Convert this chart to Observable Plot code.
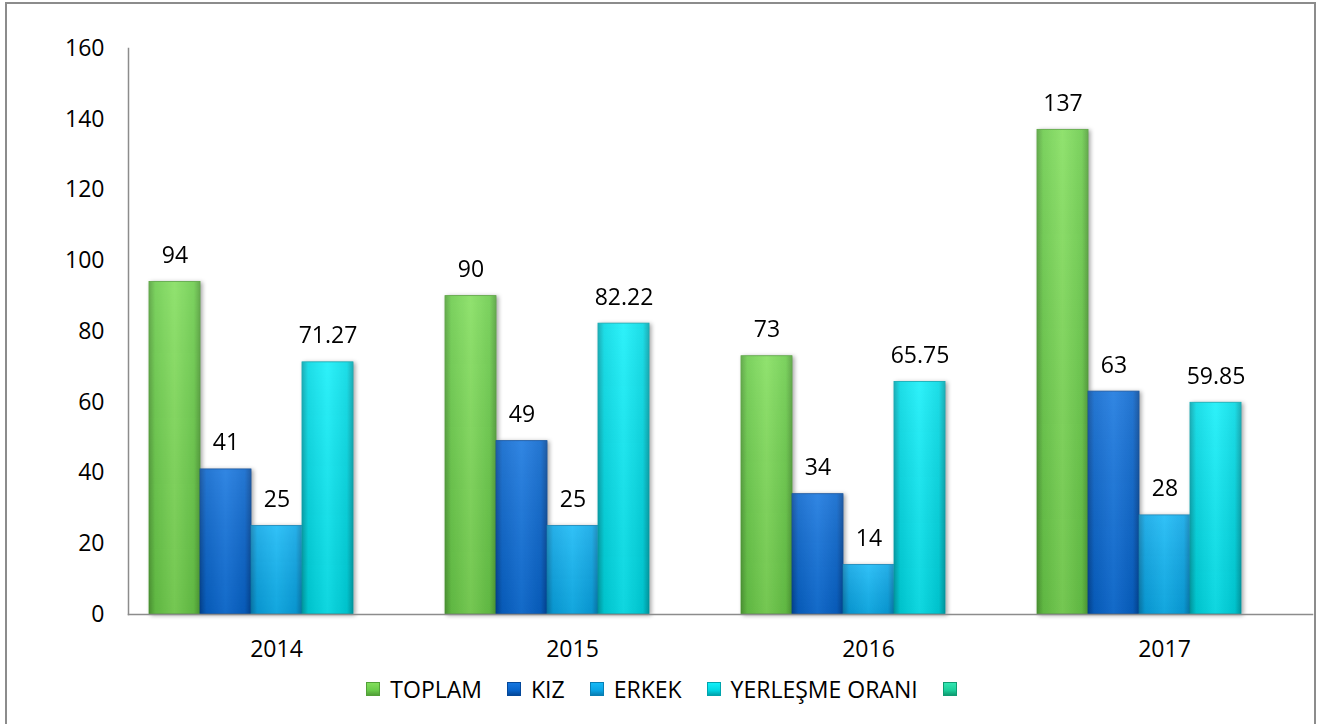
<!DOCTYPE html>
<html><head><meta charset="utf-8">
<script src="https://cdn.jsdelivr.net/npm/d3@7"></script>
<script src="https://cdn.jsdelivr.net/npm/@observablehq/plot@0.6"></script>
<style>
body{margin:0;background:#fff;font-family:"Open Sans",sans-serif;}
#wrap{position:relative;width:1336px;height:724px;overflow:hidden;background:#fff;}
#border{position:absolute;left:5px;top:2px;width:1311px;height:800px;border:2px solid #8c8c8c;box-sizing:border-box;}
#chart{position:absolute;left:0;top:0;}
#legend{position:absolute;left:7px;top:674px;width:1309px;display:flex;justify-content:center;align-items:center;gap:25px;font-size:23px;line-height:30px;color:#000;}
.item{display:flex;align-items:center;}
.sw{width:14px;height:14px;margin-right:10px;box-sizing:border-box;}
</style></head>
<body>
<div id="wrap"><div id="border"></div><div id="chart"></div><div id="legend"></div></div>
<script>
const years = ["2014", "2015", "2016", "2017"];
// fifth series is present in the legend but has no label and no values
const series = ["TOPLAM", "KIZ", "ERKEK", "YERLEŞME ORANI", ""];
const toplam = [94, 90, 73, 137];
const kiz = [41, 49, 34, 63];
const erkek = [25, 25, 14, 28];
const yerlesme = [71.27, 82.22, 65.75, 59.85];
const yTicks = [0, 20, 40, 60, 80, 100, 120, 140, 160];

// colour styles: [dark edge, base, light centre]
const palette = [
  ["#52a038", "#6acb4a", "#82de5c"],
  ["#04489a", "#0864cb", "#1676df"],
  ["#087fb4", "#0aa5e5", "#16b9f6"],
  ["#00a4ad", "#00d8e3", "#12eff9"],
  ["#0f9c72", "#1ccf9a", "#33e6b2"]
];

const values = [toplam, kiz, erkek, yerlesme];
const data = years.flatMap((y, i) => values.map((v, j) => ({year: y, series: series[j], idx: j, value: v[i]})));

const chart = Plot.plot({
  width: 1336,
  height: 670,
  marginLeft: 127,
  marginRight: 24,
  marginTop: 48,
  marginBottom: 56,
  style: {fontFamily: "'Open Sans', sans-serif", fontSize: "23px", color: "#000", background: "transparent", overflow: "visible"},
  fx: {domain: years, paddingInner: 0, paddingOuter: 0, label: null, tickSize: 0, tickPadding: 26, axis: "bottom"},
  x: {domain: series, paddingInner: 0, paddingOuter: 0.374, axis: null},
  y: {domain: [0, 160], ticks: yTicks, tickSize: 0, tickPadding: 24, label: null, tickFormat: d => String(d)},
  color: {type: "identity"},
  marks: [
    Plot.barY(data, {fx: "year", x: "series", y: "value", fill: d => `url(#grad${d.idx})`, stroke: d => palette[d.idx][0], strokeWidth: 0.8}),
    Plot.barY(data, {fx: "year", x: "series", y: "value", fill: d => "url(#vshade)"}),
    Plot.text(data, {fx: "year", x: "series", y: "value", text: d => String(d.value), dy: -19, lineAnchor: "bottom", fill: "#000"}),
    Plot.frame({anchor: "bottom", facet: "super", stroke: "#8c8c8c", strokeWidth: 1.5}),
    Plot.frame({anchor: "left", facet: "super", stroke: "#8c8c8c", strokeWidth: 1.5})
  ]
});
const svg = chart.tagName.toLowerCase() === "svg" ? chart : chart.querySelector("svg");
let defs = "<defs>";
palette.forEach((p, i) => {
  defs += `<linearGradient id="grad${i}" x1="0" x2="1" y1="0" y2="0">
    <stop offset="0" stop-color="${p[0]}"/><stop offset="0.12" stop-color="${p[1]}"/>
    <stop offset="0.5" stop-color="${p[2]}"/><stop offset="0.88" stop-color="${p[1]}"/>
    <stop offset="1" stop-color="${p[0]}"/></linearGradient>`;
});
defs += `<linearGradient id="vshade" x1="0" x2="0" y1="0" y2="1">
  <stop offset="0" stop-color="#fff" stop-opacity="0.12"/><stop offset="1" stop-color="#000" stop-opacity="0.1"/></linearGradient></defs>`;
svg.insertAdjacentHTML("afterbegin", defs);
const barGroups = svg.querySelectorAll('g[aria-label="bar"]');
if (barGroups[0]) barGroups[0].style.filter = "drop-shadow(2px 1px 2px rgba(0,0,0,0.35))";
document.getElementById("chart").appendChild(chart);

const legend = document.getElementById("legend");
series.forEach((lab, i) => {
  const p = palette[i];
  const item = document.createElement("div");
  item.className = "item";
  const sw = document.createElement("div");
  sw.className = "sw";
  sw.style.background = `linear-gradient(to bottom, ${p[2]}, ${p[1]} 60%, ${p[0]})`;
  sw.style.border = `1px solid ${p[0]}`;
  item.appendChild(sw);
  if (lab) {
    const t = document.createElement("span");
    t.textContent = lab;
    item.appendChild(t);
  } else {
    sw.style.marginRight = "0";
  }
  legend.appendChild(item);
});
</script>
</body></html>
